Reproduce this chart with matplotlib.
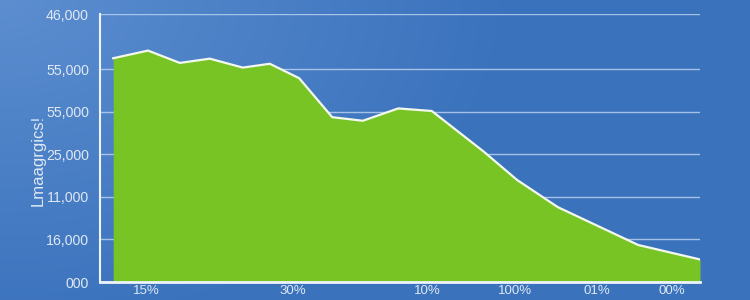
import numpy as np
import matplotlib
matplotlib.use("Agg")
import matplotlib.pyplot as plt

# ---- data ----
x_vals = [2.2, 8.0, 13.3, 18.3, 23.8, 28.3, 33.2, 38.7, 43.8, 49.7, 55.3, 64.0, 69.5, 76.3, 89.7, 100.0]
y_vals = [52600, 54400, 51500, 52500, 50400, 51300, 47900, 38750, 37900, 40800, 40200, 30600, 24000, 17600, 8700, 5300]

y_ticks = [0, 10000, 20000, 30000, 40000, 50000, 63000]
y_tick_labels = ["000", "16,000", "11,000", "25,000", "55,000", "55,000", "46,000"]
x_ticks = [7.7, 32.2, 54.5, 69.2, 82.8, 95.3]
x_tick_labels = ["15%", "30%", "10%", "100%", "01%", "00%"]
y_label = "Lmaagrgics!"

plt.rcParams['font.family'] = ['Liberation Sans', 'DejaVu Sans']
txt_color = "#dfe8f3"

fig = plt.figure(figsize=(7.5, 3), dpi=100)

# background gradient
bg = fig.add_axes([0, 0, 1, 1], zorder=-10)
h, w = 300, 750
yy, xx = np.mgrid[0:h, 0:w]
d = np.sqrt((xx / w * 1.6) ** 2 + (yy / h) ** 2)
t = np.clip(d / 1.1, 0, 1)[..., None]
c0 = np.array([92, 142, 208]) / 255.0
c1 = np.array([58, 114, 188]) / 255.0
img = c0 * (1 - t) + c1 * t
bg.imshow(img, aspect="auto", extent=[0, 1, 0, 1], origin="upper")
bg.axis("off")

ax = fig.add_axes([100 / 750, 18 / 300, 600 / 750, 268 / 300])
ax.patch.set_alpha(0)
ax.set_xlim(0, 100)
ax.set_ylim(0, 63000)

ax.fill_between(x_vals, y_vals, 0, color="#78c425", zorder=3, linewidth=0)
ax.plot(x_vals, y_vals, color="#f2f8ee", linewidth=1.6, zorder=4)

ax.set_yticks(y_ticks)
ax.set_yticklabels(y_tick_labels)
ax.set_xticks(x_ticks)
ax.set_xticklabels(x_tick_labels)
ax.tick_params(axis="y", length=0, pad=8, labelsize=10.2, labelcolor=txt_color)
ax.tick_params(axis="x", length=0, pad=2.5, labelsize=9.5, labelcolor=txt_color)

ax.grid(axis="y", color="#b8d0ee", linewidth=1.0, alpha=0.85, zorder=1)
ax.grid(axis="x", visible=False)

for s in ["top", "right"]:
    ax.spines[s].set_visible(False)
ax.spines["left"].set_color("#eef4fa")
ax.spines["left"].set_linewidth(1.5)
ax.spines["bottom"].set_color("#eef4fa")
ax.spines["bottom"].set_linewidth(2.0)
ax.spines["bottom"].set_zorder(5)

fig.text(38 / 750, 1 - 160 / 300, y_label, rotation=90, ha="center", va="center",
         color=txt_color, fontsize=12)

fig.savefig("out.png", dpi=100)
